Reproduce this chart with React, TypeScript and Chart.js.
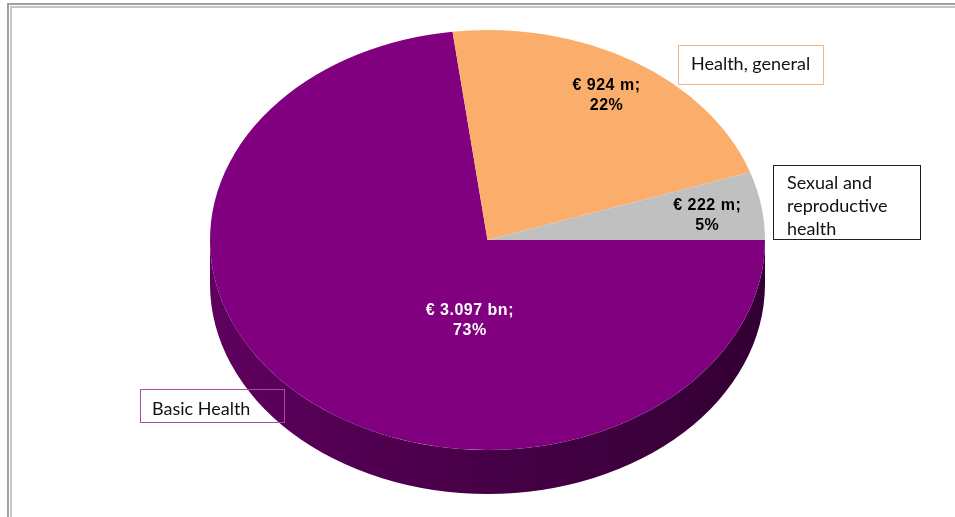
import React, { useEffect, useRef } from "react";
import { Chart, registerables } from "chart.js";

Chart.register(...registerables);

// ---- data ----
const categories = ["Basic Health", "Health, general", "Sexual and reproductive health"];
const amountsMillion = [3097, 924, 222];
const amountLabels = ["€ 3.097 bn;", "€ 924 m;", "€ 222 m;"];
const sliceColors = ["#800080", "#FBAE6B", "#C0C0C0"];
const valueLabelColors = ["#FFFFFF", "#000000", "#000000"];
const calloutLines = [["Basic Health"], ["Health, general"], ["Sexual and", "reproductive", "health"]];
const calloutBorders = ["#A74BA7", "#F9B47C", "#1E1E1E"];

// ---- layout (pixels) ----
const W = 955;
const H = 517;
const RX = 277.5;
const RY = 210;
const DEPTH = 44;
const labelRadius = [0.39, 0.81, 0.8];
const labelAngleShift = [-32.0, 0, 1.2];
const calloutBoxes = [
  { x: 140, y: 389, w: 144, h: 33, tx: 152, ty: 414.5 },
  { x: 678, y: 45, w: 145, h: 39, tx: 691, ty: 69.5 },
  { x: 773, y: 165, w: 147, h: 74, tx: 787, ty: 189 },
];
const calloutLineHeight = 23;

function hexToRgb(hex: string) {
  const n = parseInt(hex.slice(1), 16);
  return [(n >> 16) & 255, (n >> 8) & 255, n & 255];
}
function shade(hex: string, f: number) {
  const [r, g, b] = hexToRgb(hex);
  return `rgb(${Math.round(r * f)},${Math.round(g * f)},${Math.round(b * f)})`;
}

const pie3d = {
  id: "pie3d",
  beforeDatasetsDraw(chart: any) {
    const ctx = chart.ctx;
    const meta = chart.getDatasetMeta(0);
    const first = meta.data[0];
    const cx = first.x;
    const cy = first.y;
    const r = first.outerRadius;
    const k = RY / RX;
    const ry = r * k;
    ctx.save();
    meta.data.forEach((arc: any, i: number) => {
      const { startAngle, endAngle } = arc.getProps(["startAngle", "endAngle"], true);
      for (const base of [0, 2 * Math.PI]) {
        const a0 = Math.max(startAngle, base);
        const a1 = Math.min(endAngle, base + Math.PI);
        if (a1 <= a0) continue;
        const grad = ctx.createLinearGradient(cx - r, 0, cx + r, 0);
        grad.addColorStop(0, shade(sliceColors[i], 0.74));
        grad.addColorStop(0.5, shade(sliceColors[i], 0.55));
        grad.addColorStop(1, shade(sliceColors[i], 0.4));
        ctx.beginPath();
        ctx.ellipse(cx, cy, r, ry, 0, a0, a1);
        ctx.lineTo(cx + r * Math.cos(a1), cy + DEPTH + ry * Math.sin(a1));
        ctx.ellipse(cx, cy + DEPTH, r, ry, 0, a1, a0, true);
        ctx.closePath();
        ctx.fillStyle = grad;
        ctx.fill();
      }
    });
    ctx.restore();
    ctx.save();
    ctx.translate(0, cy);
    ctx.scale(1, k);
    ctx.translate(0, -cy);
  },
  afterDatasetsDraw(chart: any) {
    chart.ctx.restore();
  },
  afterDraw(chart: any) {
    const ctx = chart.ctx;
    const meta = chart.getDatasetMeta(0);
    const total = amountsMillion.reduce((a, b) => a + b, 0);
    const k = RY / RX;
    ctx.save();
    // value labels
    ctx.font = "bold 16px 'Liberation Sans', Arial, sans-serif";
    ctx.textAlign = "center";
    ctx.textBaseline = "middle";
    try {
      (ctx as any).letterSpacing = "0.5px";
    } catch (e) {}
    meta.data.forEach((arc: any, i: number) => {
      const { startAngle, endAngle, outerRadius, x, y } = arc.getProps(
        ["startAngle", "endAngle", "outerRadius", "x", "y"],
        true
      );
      const mid = (startAngle + endAngle) / 2 + (labelAngleShift[i] * Math.PI) / 180;
      const rr = labelRadius[i] * outerRadius;
      const lx = x + rr * Math.cos(mid);
      const ly = y + rr * Math.sin(mid) * k;
      const pct = Math.round((amountsMillion[i] / total) * 100) + "%";
      ctx.fillStyle = valueLabelColors[i];
      ctx.fillText(amountLabels[i], lx, ly - 10);
      ctx.fillText(pct, lx, ly + 10);
    });
    try {
      (ctx as any).letterSpacing = "0px";
    } catch (e) {}
    // callouts
    ctx.font = "18px Lato, 'Liberation Sans', sans-serif";
    ctx.textAlign = "left";
    ctx.textBaseline = "alphabetic";
    calloutBoxes.forEach((b, i) => {
      ctx.strokeStyle = calloutBorders[i];
      ctx.lineWidth = 1;
      ctx.strokeRect(b.x + 0.5, b.y + 0.5, b.w, b.h);
      ctx.fillStyle = "#111111";
      calloutLines[i].forEach((line, j) => {
        ctx.fillText(line, b.tx, b.ty + j * calloutLineHeight);
      });
    });
    ctx.restore();
  },
};

export default function App() {
  const canvasRef = useRef<HTMLCanvasElement | null>(null);

  useEffect(() => {
    if (!canvasRef.current) return;
    const chart = new Chart(canvasRef.current, {
      type: "pie",
      data: {
        labels: categories,
        datasets: [
          {
            data: amountsMillion,
            backgroundColor: sliceColors,
            borderWidth: 0,
            hoverOffset: 0,
            clip: false,
          } as any,
        ],
      },
      options: {
        responsive: false,
        animation: false,
        devicePixelRatio: 1,
        rotation: 90,
        radius: RX,
        layout: { padding: { left: 20, right: 0, top: 0, bottom: 37 } },
        plugins: {
          legend: { display: false },
          tooltip: { enabled: false },
        },
        events: [],
      } as any,
      plugins: [pie3d],
    });
    return () => chart.destroy();
  }, []);

  return (
    <div
      style={{
        position: "fixed",
        left: 0,
        top: 0,
        width: W,
        height: H,
        overflow: "hidden",
        background: "#ffffff",
      }}
    >
      <div
        style={{
          position: "absolute",
          left: 7,
          top: 3,
          width: 2000,
          height: 2000,
          borderLeft: "2px solid #a0a0a0",
          borderTop: "2px solid #a0a0a0",
        }}
      />
      <div
        style={{
          position: "absolute",
          left: 10,
          top: 6,
          width: 2000,
          height: 2000,
          borderLeft: "2px solid #c4c4c4",
          borderTop: "2px solid #c4c4c4",
        }}
      />
      <canvas
        ref={canvasRef}
        width={W}
        height={H}
        style={{ position: "absolute", left: 0, top: 0, width: W, height: H }}
      />
    </div>
  );
}
